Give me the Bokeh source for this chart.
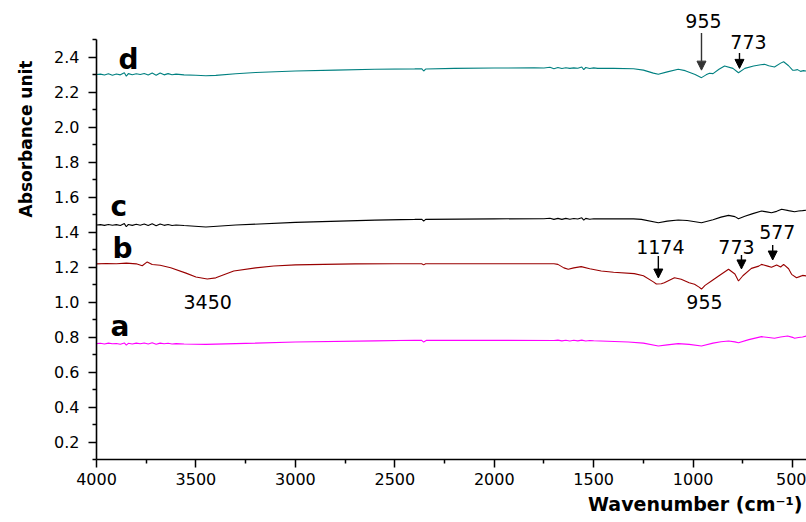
from bokeh.plotting import figure
from bokeh.models import (Range1d, FixedTicker, PrintfTickFormatter, Label,
                          Arrow, NormalHead, Title)
from bokeh.embed import file_html
from bokeh.resources import INLINE

# ---------------- data ----------------
wn_a = [4000, 3980, 3960, 3940, 3920, 3900, 3880, 3860, 3850, 3840, 3820, 3800, 3780,
        3760, 3740, 3720, 3700, 3680, 3660, 3640, 3620, 3600, 3560, 3450, 3200, 3000,
        2600, 2400, 2365, 2355, 2340, 2000, 1700, 1680, 1660, 1640, 1620, 1600, 1580,
        1560, 1540, 1520, 1500, 1326, 1250, 1175, 1130, 1075, 1020, 958, 900, 860, 822,
        790, 772, 720, 656, 620, 591, 560, 525, 500, 490, 470, 450, 430]
ab_a = [0.762, 0.764, 0.760, 0.765, 0.761, 0.763, 0.759, 0.766, 0.754, 0.764, 0.760, 0.765,
        0.761, 0.766, 0.760, 0.767, 0.759, 0.765, 0.761, 0.764, 0.760, 0.762, 0.760, 0.758,
        0.765, 0.771, 0.778, 0.781, 0.781, 0.771, 0.781, 0.781, 0.780, 0.782, 0.778, 0.781,
        0.777, 0.781, 0.778, 0.782, 0.777, 0.780, 0.779, 0.771, 0.765, 0.749, 0.755, 0.762,
        0.758, 0.749, 0.765, 0.773, 0.777, 0.772, 0.767, 0.785, 0.802, 0.797, 0.793, 0.800,
        0.806, 0.798, 0.793, 0.797, 0.800, 0.806]

wn_b = [4000, 3950, 3900, 3850, 3800, 3770, 3745, 3720, 3680, 3627, 3550, 3500, 3443,
        3400, 3350, 3310, 3200, 3109, 3000, 2857, 2700, 2500, 2365, 2355, 2345, 2000,
        1700, 1680, 1650, 1628, 1600, 1563, 1520, 1462, 1400, 1296, 1250, 1200, 1185,
        1160, 1145, 1094, 1060, 1020, 993, 970, 958, 940, 908, 870, 822, 790, 772, 750,
        707, 670, 656, 625, 606, 580, 560, 545, 520, 505, 480, 465, 450, 430]
ab_b = [1.218, 1.220, 1.219, 1.222, 1.218, 1.207, 1.229, 1.214, 1.210, 1.196, 1.165, 1.143,
        1.131, 1.138, 1.160, 1.177, 1.195, 1.206, 1.212, 1.215, 1.218, 1.219, 1.219, 1.212,
        1.219, 1.219, 1.219, 1.215, 1.195, 1.187, 1.195, 1.202, 1.190, 1.177, 1.170, 1.162,
        1.150, 1.115, 1.103, 1.104, 1.110, 1.139, 1.130, 1.110, 1.101, 1.085, 1.074, 1.095,
        1.120, 1.150, 1.187, 1.160, 1.120, 1.150, 1.192, 1.205, 1.215, 1.205, 1.198, 1.212,
        1.200, 1.215, 1.190, 1.158, 1.139, 1.145, 1.152, 1.149]

wn_c = [4000, 3980, 3960, 3940, 3920, 3900, 3880, 3860, 3850, 3840, 3820, 3800, 3780,
        3760, 3740, 3720, 3700, 3680, 3660, 3640, 3620, 3600, 3560, 3450, 3300, 3000,
        2600, 2400, 2365, 2355, 2345, 2000, 1750, 1720, 1700, 1680, 1660, 1640, 1620,
        1600, 1580, 1560, 1550, 1540, 1520, 1500, 1300, 1260, 1175, 1130, 1075, 1030,
        958, 900, 860, 822, 790, 772, 740, 700, 656, 630, 606, 580, 555, 520, 490, 470,
        450, 430]
ab_c = [1.440, 1.442, 1.438, 1.443, 1.439, 1.442, 1.437, 1.448, 1.430, 1.443, 1.438, 1.444,
        1.439, 1.446, 1.437, 1.447, 1.436, 1.446, 1.438, 1.443, 1.437, 1.440, 1.437, 1.429,
        1.440, 1.455, 1.468, 1.472, 1.473, 1.462, 1.472, 1.475, 1.476, 1.479, 1.472, 1.478,
        1.472, 1.478, 1.473, 1.477, 1.474, 1.481, 1.468, 1.478, 1.473, 1.476, 1.475, 1.472,
        1.453, 1.462, 1.469, 1.466, 1.453, 1.470, 1.485, 1.495, 1.488, 1.476, 1.490, 1.505,
        1.520, 1.515, 1.510, 1.518, 1.530, 1.522, 1.516, 1.520, 1.522, 1.525]

wn_d = [4000, 3980, 3960, 3940, 3920, 3900, 3880, 3860, 3850, 3840, 3820, 3800, 3780,
        3760, 3740, 3720, 3700, 3680, 3660, 3640, 3620, 3600, 3560, 3500, 3450, 3400,
        3300, 3200, 3100, 3000, 2800, 2600, 2400, 2365, 2355, 2345, 2200, 2000, 1800,
        1750, 1720, 1700, 1680, 1660, 1640, 1620, 1600, 1580, 1560, 1550, 1540, 1520,
        1500, 1480, 1400, 1300, 1250, 1200, 1175, 1130, 1075, 1040, 990, 958, 935, 918,
        900, 870, 842, 800, 772, 740, 696, 660, 641, 620, 591, 560, 545, 520, 500, 490,
        475, 460, 445, 430]
ab_d = [2.300, 2.302, 2.297, 2.304, 2.296, 2.303, 2.298, 2.310, 2.290, 2.305, 2.299, 2.304,
        2.300, 2.306, 2.297, 2.308, 2.296, 2.309, 2.298, 2.305, 2.299, 2.302, 2.298, 2.296,
        2.293, 2.295, 2.304, 2.311, 2.316, 2.320, 2.325, 2.330, 2.332, 2.333, 2.320, 2.331,
        2.335, 2.337, 2.338, 2.337, 2.341, 2.333, 2.340, 2.334, 2.339, 2.335, 2.338, 2.336,
        2.343, 2.328, 2.340, 2.334, 2.338, 2.335, 2.335, 2.333, 2.325, 2.308, 2.301, 2.315,
        2.330, 2.322, 2.300, 2.282, 2.298, 2.307, 2.305, 2.330, 2.349, 2.335, 2.310, 2.335,
        2.349, 2.356, 2.358, 2.350, 2.343, 2.365, 2.373, 2.350, 2.325, 2.324, 2.328, 2.318,
        2.322, 2.320]

series_names = ["a", "b", "c", "d"]
series_colors = ["#ff00ff", "#990000", "#000000", "#008080"]

x_ticks = [4000, 3500, 3000, 2500, 2000, 1500, 1000, 500]
x_minor = [3750, 3250, 2750, 2250, 1750, 1250, 750]
y_ticks = [0.2, 0.4, 0.6, 0.8, 1.0, 1.2, 1.4, 1.6, 1.8, 2.0, 2.2, 2.4]
y_minor = [0.1, 0.3, 0.5, 0.7, 0.9, 1.1, 1.3, 1.5, 1.7, 1.9, 2.1, 2.3, 2.5]

x_title = "Wavenumber (cm\u207b\u00b9)"
y_title = "Absorbance unit"

# peak arrows (vertical): wavenumber, start and tip absorbance
arrow_x = [958, 767, 1175, 757, 600]
arrow_y0 = [2.537, 2.423, 1.263, 1.269, 1.326]
arrow_y1 = [2.325, 2.335, 1.137, 1.189, 1.240]
arrow_colors = ["#333333", "#000000", "#000000", "#000000", "#000000"]

# peak labels: text and centre position
peak_texts = ["955", "773", "1174", "773", "577", "955", "3450"]
peak_x = [948, 722, 1165, 782, 577, 943, 3441]
peak_y = [2.604, 2.484, 1.312, 1.312, 1.398, 0.998, 0.998]

letter_x = [3929, 3919, 3929, 3889]
letter_y = [0.861, 1.306, 1.546, 2.386]

FONT = "DejaVu Sans"

p = figure(width=806, height=522, output_backend="svg", toolbar_location=None,
           title_location=None,
           x_range=Range1d(4000, 430), y_range=Range1d(0.1, 2.66),
           min_border_left=96, min_border_right=0, min_border_top=11,
           min_border_bottom=63)
p.outline_line_color = None
p.xgrid.visible = False
p.ygrid.visible = False
p.background_fill_color = "white"
p.border_fill_color = "white"

for wn, ab, col in zip([wn_a, wn_b, wn_c, wn_d], [ab_a, ab_b, ab_c, ab_d], series_colors):
    p.line(x=wn, y=ab, line_color=col, line_width=1.1)

for ax in (p.xaxis[0], p.yaxis[0]):
    ax.axis_line_width = 1.6
    ax.axis_line_color = "black"
    ax.major_tick_line_width = 1.5
    ax.minor_tick_line_width = 1.5
    ax.major_tick_out = 8
    ax.major_tick_in = 0
    ax.minor_tick_out = 4
    ax.minor_tick_in = 0
    ax.major_label_text_font = FONT
    ax.major_label_text_font_size = "16px"
    ax.major_label_text_color = "black"

p.xaxis.ticker = FixedTicker(ticks=x_ticks, minor_ticks=x_minor)
p.xaxis.major_label_standoff = 5
p.yaxis.ticker = FixedTicker(ticks=y_ticks, minor_ticks=y_minor)
p.yaxis.formatter = PrintfTickFormatter(format="%.1f")
p.yaxis.major_label_standoff = 9
p.yaxis.bounds = (0.1, 2.5)

# axis titles placed as outer titles, offset to where the reference has them
p.add_layout(Title(text=y_title, align="right", offset=49, vertical_align="top",
                   standoff=28, text_font=FONT, text_font_size="17px",
                   text_font_style="bold", text_color="black"), "left")
p.add_layout(Title(text=x_title, align="right", offset=4, vertical_align="bottom",
                   standoff=7, text_font=FONT, text_font_size="19px",
                   text_font_style="bold", text_color="black"), "below")

for x0, y0, y1, col in zip(arrow_x, arrow_y0, arrow_y1, arrow_colors):
    p.add_layout(Arrow(x_start=x0, y_start=y0, x_end=x0, y_end=y1,
                       line_color=col, line_width=1.4,
                       end=NormalHead(size=9, fill_color=col, line_color=col)))

for t, x, y in zip(peak_texts, peak_x, peak_y):
    p.add_layout(Label(x=x, y=y, text=t, text_font=FONT, text_font_size="19px",
                       text_align="center", text_baseline="middle",
                       text_color="black"))

for t, x, y in zip(series_names, letter_x, letter_y):
    p.add_layout(Label(x=x, y=y, text=t, text_font=FONT, text_font_size="28px",
                       text_font_style="bold", text_align="left",
                       text_baseline="middle", text_color="black"))

open("out.html", "w").write(file_html(p, INLINE))
